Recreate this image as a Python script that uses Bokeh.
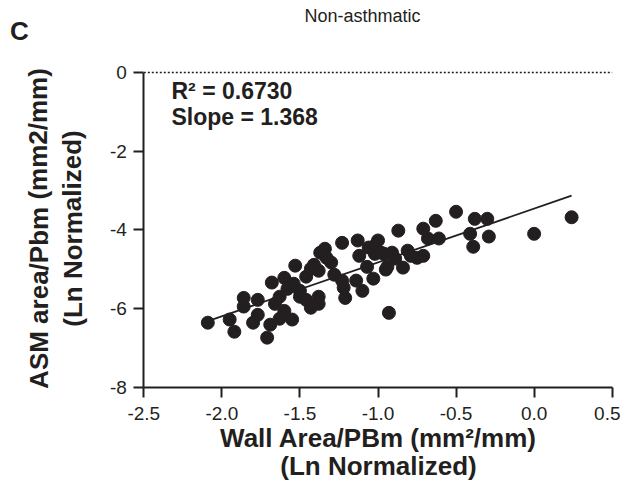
from bokeh.plotting import figure
from bokeh.models import Range1d, Label, FixedTicker, LinearAxis
from bokeh.embed import file_html
from bokeh.resources import INLINE

# ---- data ----
wall_area = [-2.09, -1.95, -1.92, -1.86, -1.86, -1.77, -1.77, -1.80, -1.71, -1.69,
             -1.68, -1.66, -1.63, -1.60, -1.63, -1.55, -1.60, -1.58, -1.54, -1.53,
             -1.50, -1.46, -1.46, -1.43, -1.41, -1.38, -1.43, -1.38, -1.37, -1.34,
             -1.30, -1.28, -1.23, -1.21, -1.23, -1.14, -1.12, -1.13, -1.22, -1.10,
             -1.07, -1.02, -1.03, -0.98, -0.94, -0.91, -0.93, -0.87, -0.84, -0.81,
             -0.75, -0.71, -0.71, -0.68, -0.63, -0.61, -0.50, -0.41, -0.39, -0.38,
             -0.30, -0.29, 0.00, 0.24, -1.38, -1.06, -1.00, -1.02, -0.96, -0.89,
             -0.79, -0.95, -1.33, -1.50]
asm_area = [-6.36, -6.28, -6.59, -5.73, -5.95, -5.78, -6.16, -6.36, -6.74, -6.41,
            -5.34, -5.88, -5.70, -6.06, -6.26, -6.28, -5.22, -5.50, -5.37, -4.91,
            -5.70, -5.78, -5.19, -4.99, -4.89, -5.70, -5.98, -5.88, -4.58, -4.48,
            -4.83, -5.14, -5.29, -5.73, -4.33, -5.29, -4.66, -4.27, -5.47, -5.55,
            -4.94, -4.40, -5.24, -4.58, -4.94, -4.58, -6.11, -4.02, -4.96, -4.53,
            -4.71, -3.97, -4.66, -4.22, -3.77, -4.22, -3.54, -4.10, -4.43, -3.72,
            -3.72, -4.17, -4.10, -3.68, -5.04, -4.45, -4.27, -4.61, -4.61, -4.73,
            -4.66, -5.01, -4.71, -5.55]
fit_slope = 1.368
fit_intercept = -3.46
fit_r2 = 0.6730
x_ticks = [-2.5, -2.0, -1.5, -1.0, -0.5, 0.0, 0.5]
x_tick_labels = ["-2.5", "-2.0", "-1.5", "-1.0", "-0.5", "0.0", "0.5"]
y_ticks = [0, -2, -4, -6, -8]
y_tick_labels = ["0", "-2", "-4", "-6", "-8"]

INK = "#231f20"
FONT = "Liberation Sans"

# ---- geometry: canvas size and axis-box position in pixels ----
W, H = 620, 495
FL, FR, FT, FB = 143.3, 611.7, 72.0, 386.7
XMIN, XMAX = x_ticks[0], x_ticks[-1]
YMIN, YMAX = y_ticks[-1], y_ticks[0]
sx = (FR - FL) / (XMAX - XMIN)
sy = (FB - FT) / (YMAX - YMIN)

p = figure(width=W, height=H, output_backend="svg", toolbar_location=None,
           x_axis_type=None, y_axis_type=None,
           x_range=Range1d(XMIN - FL / sx, XMAX + (W - FR) / sx),
           y_range=Range1d(YMIN - (H - FB) / sy, YMAX + FT / sy),
           min_border=0)
p.outline_line_color = None
p.grid.visible = False
p.background_fill_color = "white"
p.border_fill_color = "white"

xaxis = LinearAxis(fixed_location=YMIN, bounds=(XMIN, XMAX),
                   ticker=FixedTicker(ticks=x_ticks),
                   major_label_overrides={t: l for t, l in zip(x_ticks, x_tick_labels)})
yaxis = LinearAxis(fixed_location=XMIN, bounds=(YMIN, YMAX),
                   ticker=FixedTicker(ticks=y_ticks),
                   major_label_overrides={t: l for t, l in zip(y_ticks, y_tick_labels)})
for ax in (xaxis, yaxis):
    ax.axis_line_color = INK
    ax.axis_line_width = 2
    ax.major_tick_line_color = INK
    ax.major_tick_line_width = 2
    ax.major_tick_out = 10
    ax.major_tick_in = 0
    ax.minor_tick_line_color = None
    ax.major_label_text_font = FONT
    ax.major_label_text_font_size = "19px"
    ax.major_label_text_color = INK
xaxis.major_label_standoff = 10
yaxis.major_label_standoff = 7
p.add_layout(xaxis, "below")
p.add_layout(yaxis, "left")

# dotted reference line at zero across the axis box
p.line([XMIN, XMAX], [0, 0], line_color=INK, line_dash="2 2", line_width=1.4)

# regression line
x0, x1 = min(wall_area), max(wall_area)
p.line([x0, x1], [fit_intercept + fit_slope * x0, fit_intercept + fit_slope * x1],
       line_color=INK, line_width=1.8)

p.scatter(wall_area, asm_area, size=13, fill_color=INK, line_color=INK)

# text placed at pixel positions (mapped into data coordinates)
def dx(px):
    return XMIN + (px - FL) / sx

def dy(py):
    return YMAX - (py - FT) / sy

def lab(text, px, py, size, bold=True, align="left", angle=0.0):
    p.add_layout(Label(x=dx(px), y=dy(py), text=text, text_font=FONT,
                       text_font_size=size, text_color=INK,
                       text_font_style="bold" if bold else "normal",
                       text_align=align, text_baseline="middle", angle=angle))

lab("R\u00b2 = %.4f" % fit_r2, 171, 90, "23px")
lab("Slope = %.3f" % fit_slope, 171, 116, "23px")
lab("C", 19, 30, "26px", align="center")
lab("Non-asthmatic", 362, 15, "18px", bold=False, align="center")
lab("Wall Area/PBm (mm\u00b2/mm)", 378, 437, "26px", align="center")
lab("(Ln Normalized)", 378, 465, "26px", align="center")
lab("ASM area/Pbm (mm2/mm)", 38, 228, "26px", align="center", angle=1.5708)
lab("(Ln Normalized)", 72, 228, "26px", align="center", angle=1.5708)

open("out.html", "w").write(file_html(p, INLINE))
